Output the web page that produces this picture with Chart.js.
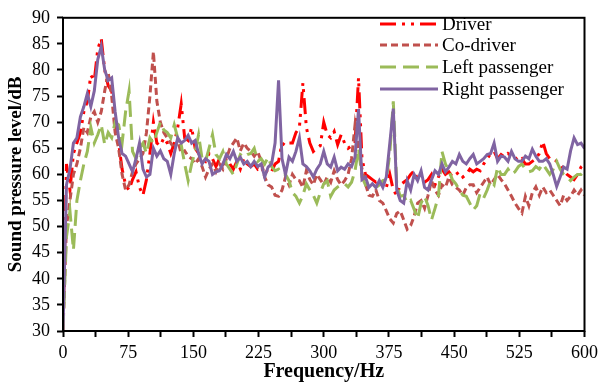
<!DOCTYPE html>
<html><head><meta charset="utf-8">
<script src="https://cdn.jsdelivr.net/npm/chart.js@4.4.1/dist/chart.umd.min.js"></script>
<style>html,body{margin:0;padding:0;background:#fff}canvas{display:block}</style>
</head><body>
<canvas id="c" width="603" height="383"></canvas>
<script>
// Frequency grid (Hz), one reading every 4 Hz
const frequency = Array.from({length: 151}, (_, i) => i * 4);

const seriesNames = ['Driver', 'Co-driver', 'Left passenger', 'Right passenger'];

// Sound pressure level (dB) at each frequency
const driver = [
  30,62,57,64,66,68,72,74,79,78,84,86,80,77,76,70,66,61,58,57,
  59,60.5,57.5,56,59,64,70,66,65.5,67,66,64,66,69,73.5,67,66.5,69,65,64,
  63,62.5,64,63,61.5,63,62,63.5,62,61,62.5,61,63,62,61.5,62,61,61.5,60,61,
  60.5,62,62.5,66,65.5,66,66,68,69,77.5,69,66,64.4,65,65.5,70,67.6,67,68.2,65.7,
  67.6,66,65,65.5,66,78.5,63,60,59.5,59,58.5,59,58.5,57.5,60,57,56,58,58.5,59,
  60,60.7,59,60,58.5,59,60,58,59.5,61,60,60.5,59.5,60,60.5,59.5,60,61,60.5,61,
  60.7,62,63,64,64.4,63,63.8,63.3,64,63.5,63.3,62.5,63,62,62,62.5,63,64,66.3,64,
  63,63,62.5,62,61,60,59.5,59,60,61.4,62
];
const coDriver = [
  30,50,55,60,62,65,69,68,71,72,70,72,76,79.5,75,68,65,60,57,58,
  60.5,62,63,64,68,75,83.5,74,70,68,67,66,65,66.5,64,64.5,63.5,63,62,63,
  61.5,59.5,61,62,60.5,62,61,63,65,66,67,64.5,66,65,64.4,63.5,64.4,62.5,59.5,58,
  57.6,56,55.8,57,59.5,58,60,59,58.8,57.5,60.7,59,58,60,59,58,59.5,58.5,60.7,59,
  58,58.8,60,63,69.5,65,61,58.2,56,55.8,57,55,54.5,53,51.5,50.7,52.5,53,51.3,49.5,
  50.2,52,54.5,55,53.5,56,58.8,57,56,58,57.5,59.5,58,57.5,57,56,57.5,58,58,56.5,
  57.5,58.5,59.5,58,59,60,59,58.2,57,55.8,54.5,53.5,52.6,55.8,54,56.5,57.6,56,57.6,56.5,
  57,56,55,54,56,55,55.8,57,56,57,56
];
const leftPassenger = [
  30,48,53,45.5,55,58.8,62,64.4,69,66,67.6,69.5,65.7,68,67,70,69.5,66,72,76,
  64.4,63,65,66,64,67,66,68,70,68.5,68,67,69.5,67,65.7,62,58.8,62,64.4,67.6,
  63,62.5,65,67.6,63.8,63,64.4,62,61,60,62,63.8,63.3,63.8,64,65,62.5,63,62,63.3,
  61.5,60.7,61,60,60,58.8,56.5,55.8,54.5,56,58.2,57,56,54.5,56.5,58.2,58.8,55.8,57,57.6,
  58,58.2,57.6,58.5,60.7,65,59.5,58,58.5,58.2,57.5,58,58.8,59,64,74,58,55.8,56,54.5,
  55,53.3,51.5,54.5,55.8,54,51.3,53.5,55.8,64.4,62,60.7,59,58.2,57,56,55.8,54.5,53.2,54,
  56.4,55.5,57,58.8,58,61.4,60,60,61,60,60.5,61.5,62,61,60.5,60.7,61.5,61,62,61,
  60,61,62.5,61,60,59.5,58.8,59.5,60,60,60.7
];
const rightPassenger = [
  30,58,61,66,67,71,73,75.5,73,76,82,84.5,80,78,78.5,72,67,64,63.5,62,
  60.5,63,66,61,59.5,60,65,63.5,64.5,63,62.5,60,64,67,66,66.5,67.5,66,66.5,64,
  62,63,62.5,60,60.5,60.7,62,63.8,63,64.4,62.5,63.3,62,62.5,61.5,62.5,61.5,62,59.5,61.4,
  62,66,78,63,60,63.3,62.5,64.4,67,62,61.5,60.7,59.5,61,62,64.4,62,61.4,63.3,60.7,
  61.4,61,62,61.5,63.3,72.5,59,59.5,57.5,58.2,57.5,58.8,57.5,59.5,66,72.6,57,55,54.5,58.8,
  57,60,58.8,60.7,57.5,57,59,60.7,60,62,60.5,61.4,62.5,62,63.8,62.5,62,63,63.8,62,
  62.5,63,63.8,64,66,62.5,63.5,63.3,62.5,64.4,63,62.5,62.5,63.5,63,64.8,63.5,62.5,62.5,63,
  62,60,57.7,59.5,61.4,61,64.5,67,65.7,66,65
];

const serif = "'Liberation Serif','Times New Roman',serif";
const pairs = vals => vals.map((v, i) => ({x: frequency[i], y: v}));

const styles = [
  {color: '#FF0000', dash: [16, 6, 3, 6, 3, 6], width: 3},
  {color: '#C0504D', dash: [7, 4], width: 3},
  {color: '#9BBB59', dash: [16, 7], width: 3},
  {color: '#8064A2', dash: [], width: 3}
];
const seriesValues = [driver, coDriver, leftPassenger, rightPassenger];

const datasets = seriesValues.map((vals, k) => ({
  label: seriesNames[k],
  data: pairs(vals),
  borderColor: styles[k].color,
  borderDash: styles[k].dash,
  borderWidth: styles[k].width,
  pointRadius: 0,
  tension: 0,
  fill: false,
  order: 4 - k
}));

// Box around the plotting area plus an in-plot legend
const framePlugin = {
  id: 'frame',
  afterDraw(chart) {
    const {ctx, chartArea: a} = chart;
    ctx.save();
    ctx.strokeStyle = '#000';
    ctx.lineWidth = 2;
    ctx.setLineDash([]);
    ctx.strokeRect(a.left, a.top, a.right - a.left, a.bottom - a.top);

    const x0 = 380, x1 = 438, rowY = [24, 45, 67, 89];
    chart.data.datasets.forEach((ds, k) => {
      ctx.beginPath();
      ctx.strokeStyle = ds.borderColor;
      ctx.lineWidth = ds.borderWidth;
      ctx.setLineDash(ds.borderDash);
      ctx.moveTo(x0, rowY[k]);
      ctx.lineTo(x1, rowY[k]);
      ctx.stroke();
      ctx.setLineDash([]);
      ctx.fillStyle = '#000';
      ctx.font = '19px ' + serif;
      ctx.textBaseline = 'middle';
      ctx.textAlign = 'left';
      ctx.fillText(ds.label, 442, rowY[k] + 1);
    });
    ctx.restore();
  }
};

new Chart(document.getElementById('c'), {
  type: 'line',
  data: {datasets},
  plugins: [framePlugin],
  options: {
    responsive: false,
    animation: false,
    devicePixelRatio: 1,
    layout: {padding: {top: 10, right: 16, left: 0, bottom: 0}},
    plugins: {legend: {display: false}, tooltip: {enabled: false}},
    scales: {
      x: {
        type: 'linear', min: 0, max: 600,
        afterFit: s => { s.height = 52; },
        border: {display: false},
        grid: {drawOnChartArea: false, drawTicks: true, tickLength: 6, tickWidth: 2, tickColor: '#000'},
        ticks: {
          stepSize: 37.5, autoSkip: false, maxRotation: 0, padding: 5,
          color: '#000', font: {family: serif, size: 18},
          callback: v => (v % 75 === 0 ? String(v) : '')
        },
        title: {display: true, text: 'Frequency/Hz', color: '#000',
          font: {family: serif, size: 20, weight: 'bold'}, padding: {top: 0, bottom: -1}}
      },
      y: {
        min: 30, max: 90,
        afterFit: s => { s.width = 63; },
        border: {display: false},
        grid: {drawOnChartArea: false, drawTicks: true, tickLength: 6, tickWidth: 2, tickColor: '#000'},
        ticks: {stepSize: 5, padding: 7, color: '#000', font: {family: serif, size: 18}},
        title: {display: true, text: 'Sound pressure level/dB', color: '#000',
          font: {family: serif, size: 19, weight: 'bold'}, padding: {top: 5, bottom: 0}}
      }
    }
  }
});
</script>
</body></html>
